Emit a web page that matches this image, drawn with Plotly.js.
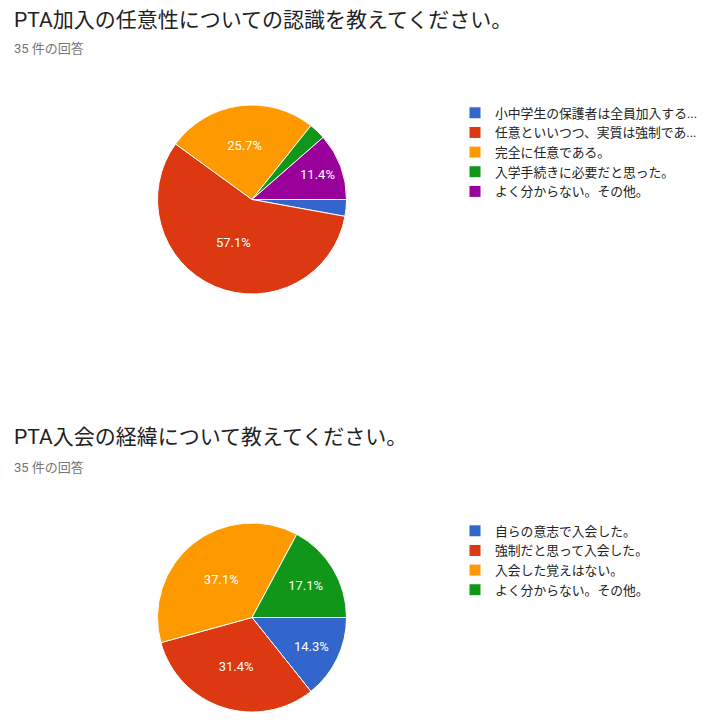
<!DOCTYPE html>
<html>
<head>
<meta charset="utf-8">
<script src="https://cdn.plot.ly/plotly-3.0.1.min.js"></script>
<style>
  html, body { margin: 0; padding: 0; background: #fff; }
</style>
</head>
<body>
<div id="chart" style="width:715px;height:722px"></div>
<script>
/* two Google Forms style answer pies */
var W = 715, H = 722;

var title1 = 'PTA加入の任意性についての認識を教えてください。';
var title2 = 'PTA入会の経緯について教えてください。';
var subtitle = '35 件の回答';

var labels1 = ['小中学生の保護者は全員加入する...', '任意といいつつ、実質は強制であ...', '完全に任意である。',
               '入学手続きに必要だと思った。', 'よく分からない。その他。'];
var counts1 = [1, 20, 9, 1, 4];

var labels2 = ['自らの意志で入会した。', '強制だと思って入会した。', '入会した覚えはない。',
               'よく分からない。その他。'];
var counts2 = [5, 11, 13, 6];

var colors = ['#3366cc', '#dc3912', '#ff9900', '#109618', '#990099'];

var font = 'Roboto, "Noto Sans CJK JP", sans-serif';

// percent labels, small slices get none (like google charts)
function pctText(counts) {
    var total = counts.reduce(function(a, b) { return a + b; }, 0);
    return counts.map(function(c) {
        var p = c / total * 100;
        return p >= 5 ? p.toFixed(1) + '%' : '';
    });
}

// pixel box -> paper domain
function domain(cx, cy, r) {
    return {
        x: [(cx - r) / W, (cx + r) / W],
        y: [1 - (cy + r) / H, 1 - (cy - r) / H]
    };
}

function pieTrace(labels, counts, cy, legendName, tag) {
    return {
        type: 'pie',
        // plotly merges equal pie labels into one legend entry,
        // so the second pie's keys get an invisible suffix
        labels: labels.map(function(l) { return l + tag; }),
        values: counts,
        text: pctText(counts),
        textinfo: 'text',
        textposition: 'inside',
        insidetextorientation: 'horizontal',
        textfont: { family: font, size: 13, color: '#fff' },
        sort: false,
        direction: 'clockwise',
        rotation: 90,
        marker: { colors: colors.slice(0, labels.length), line: { color: '#fff', width: 1 } },
        domain: domain(252, cy, 94.5),
        legend: legendName,
        hoverinfo: 'label+percent'
    };
}

var data = [
    pieTrace(labels1, counts1, 199.5, 'legend', ''),
    pieTrace(labels2, counts2, 617.5, 'legend2', '\u200b')
];

function ann(text, y, size, color) {
    return {
        text: text, xref: 'paper', yref: 'paper',
        x: 12 / W, y: 1 - y / H, xanchor: 'left', yanchor: 'middle',
        showarrow: false, font: { family: font, size: size, color: color }
    };
}

var legendStyle = function(y) {
    return {
        x: 455 / W, xanchor: 'left',
        y: 1 - y / H, yanchor: 'top',
        font: { family: font, size: 12.8, color: '#222' },
        bgcolor: 'rgba(0,0,0,0)',
        itemclick: false, itemdoubleclick: false
    };
};

var layout = {
    width: W, height: H,
    margin: { l: 0, r: 0, t: 0, b: 0 },
    paper_bgcolor: '#fff',
    showlegend: true,
    legend: legendStyle(98),
    legend2: legendStyle(516),
    annotations: [
        ann(title1, 20, 21, '#212121'),
        ann(subtitle, 48, 13, '#757575'),
        ann(title2, 437, 21, '#212121'),
        ann(subtitle, 467, 13, '#757575')
    ]
};

Plotly.newPlot('chart', data, layout, { displayModeBar: false, staticPlot: true });
</script>
</body>
</html>
